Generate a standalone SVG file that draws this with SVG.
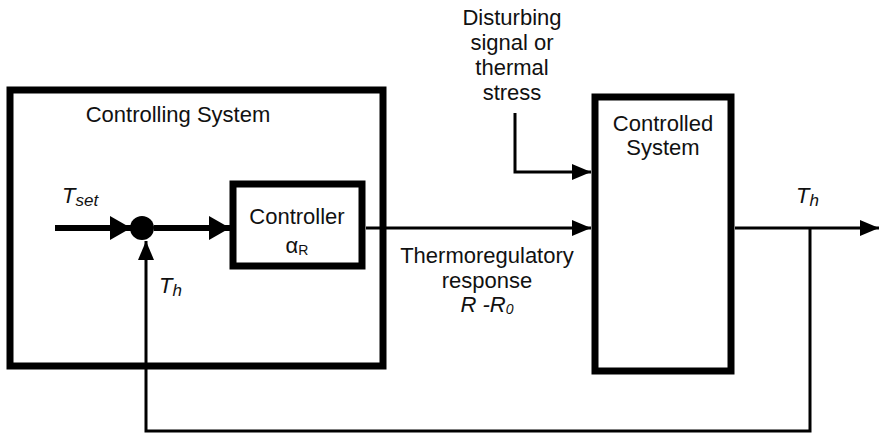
<svg xmlns="http://www.w3.org/2000/svg" width="881" height="436" viewBox="0 0 881 436">
<defs>
<style>
.box{fill:none;stroke:#000;stroke-width:7}
.t{font-family:"Liberation Sans",Arial,sans-serif;font-size:22px;fill:#111}
.it{font-style:italic}
.thin{stroke:#000;stroke-width:3;fill:none}
.thick{stroke:#000;stroke-width:6;fill:none}
</style>
<marker id="ah" markerUnits="userSpaceOnUse" markerWidth="20" markerHeight="18" refX="19" refY="9" orient="auto">
<path d="M0,1 L19,9 L0,17 Z" fill="#000"/>
</marker>
<marker id="ahb" markerUnits="userSpaceOnUse" markerWidth="22" markerHeight="26" refX="21" refY="13" orient="auto">
<path d="M0,1 L21,13 L0,25 Z" fill="#000"/>
</marker>
</defs>
<rect width="881" height="436" fill="#fff"/>
<g id="controlling-system">
<rect class="box" x="10" y="90" width="373" height="276"/>
<text class="t" x="178" y="122" text-anchor="middle" font-size="23">Controlling System</text>
</g>
<g id="controller">
<rect class="box" x="233" y="184" width="129" height="82"/>
<text class="t" x="297" y="224" text-anchor="middle">Controller</text>
<text class="t" x="297" y="253" text-anchor="middle">α<tspan font-size="14" dy="2">R</tspan></text>
</g>
<g id="sum">
<circle cx="142" cy="228" r="12" fill="#000"/>
</g>
<g id="controlled-system">
<rect class="box" x="595" y="97" width="136" height="274"/>
<text class="t" x="663" y="131" text-anchor="middle">Controlled</text>
<text class="t" x="663" y="155" text-anchor="middle">System</text>
</g>
<g id="connectors">
<line class="thick" x1="55" y1="228" x2="131" y2="228" marker-end="url(#ahb)"/>
<line class="thick" x1="154" y1="228" x2="230" y2="228" marker-end="url(#ahb)"/>
<line class="thin" x1="366" y1="228" x2="591" y2="228" marker-end="url(#ah)"/>
<polyline class="thin" points="515,113 515,172 591,172" marker-end="url(#ah)"/>
<line class="thin" x1="735" y1="228" x2="879" y2="228" marker-end="url(#ah)"/>
<polyline class="thin" points="810,228 810,431 146,431 146,241" marker-end="url(#ah)"/>
</g>
<g id="labels">
<text class="t it" x="62" y="203" font-size="25">T<tspan font-size="17" dy="3">set</tspan></text>
<text class="t it" x="159" y="293" font-size="25">T<tspan font-size="17" dy="3">h</tspan></text>
<text class="t it" x="796" y="203" font-size="25">T<tspan font-size="17" dy="3">h</tspan></text>
<text class="t" x="512" y="25" text-anchor="middle">Disturbing</text>
<text class="t" x="512" y="50" text-anchor="middle">signal or</text>
<text class="t" x="512" y="75" text-anchor="middle">thermal</text>
<text class="t" x="512" y="100" text-anchor="middle">stress</text>
<text class="t" x="487" y="263" text-anchor="middle">Thermoregulatory</text>
<text class="t" x="487" y="288" text-anchor="middle">response</text>
<text class="t it" x="487" y="312" text-anchor="middle">R -R<tspan font-size="14" dy="2">0</tspan></text>
</g>
</svg>
